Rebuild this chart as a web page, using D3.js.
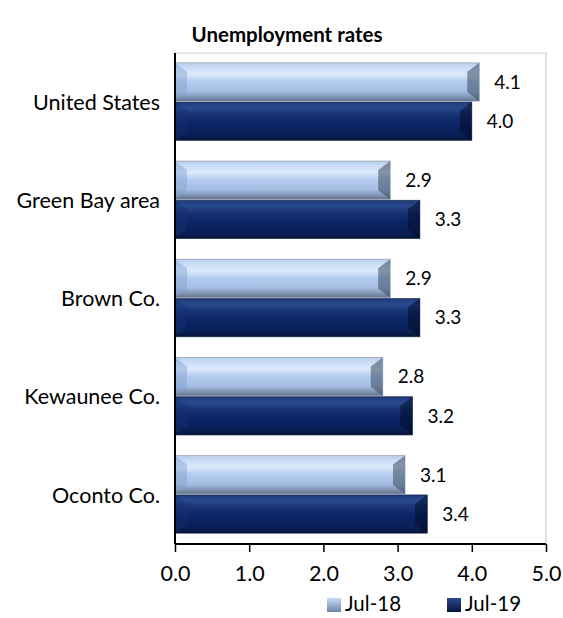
<!DOCTYPE html>
<html><head><meta charset="utf-8">
<script src="https://cdn.jsdelivr.net/npm/d3@7/dist/d3.min.js"></script>
<style>body{margin:0;background:#fff;}svg{display:block;}</style>
</head><body>
<svg id="c" width="563" height="618"></svg>
<script>
const categories = ["United States","Green Bay area","Brown Co.","Kewaunee Co.","Oconto Co."];
const seriesNames = ["Jul-18","Jul-19"];
const jul18 = [4.1, 2.9, 2.9, 2.8, 3.1];
const jul19 = [4.0, 3.3, 3.3, 3.2, 3.4];
const xTicks = [0,1,2,3,4,5];
const title = "Unemployment rates";

const svg = d3.select("#c");
const font = "Lato, 'Open Sans', sans-serif";
const L = 175, R = 546, T = 53, B = 544;
const x = d3.scaleLinear().domain([0,5]).range([L,R]);
const y = d3.scaleBand().domain(categories).range([T,B]).paddingInner(0.2).paddingOuter(0.1);
const sub = d3.scaleBand().domain(seriesNames).range([0,y.bandwidth()]);

const defs = svg.append("defs");
function grad(id, stops){
  const g = defs.append("linearGradient").attr("id",id).attr("x1",0).attr("y1",0).attr("x2",0).attr("y2",1);
  stops.forEach(s=>g.append("stop").attr("offset",s[0]).attr("stop-color",s[1]));
}
grad("gLight",[[0,"#b9cde9"],[0.12,"#c9dcf5"],[0.3,"#dbe9fb"],[0.5,"#b2cbee"],[0.75,"#a4bde2"],[0.88,"#8598b5"],[1,"#627490"]]);
grad("gDark",[[0,"#1d3a78"],[0.15,"#2a4a8e"],[0.3,"#1a3677"],[0.55,"#0b2566"],[0.85,"#0a1f56"],[1,"#061538"]]);
grad("lgLight",[[0,"#c9dcf5"],[1,"#6f85a8"]]);
grad("lgDark",[[0,"#2a4a8e"],[1,"#061538"]]);

// title
svg.append("text").attr("x",287).attr("y",42).attr("text-anchor","middle")
  .attr("font-family",font).attr("font-weight","bold").attr("font-size",20.5).attr("fill","#000").text(title);

// plot border (top/right gray)
svg.append("path").attr("d",`M${L},${T}H${R}V${B}`).attr("fill","none").attr("stroke","#d0d0d0").attr("stroke-width",1.2);

const data = [];
categories.forEach((c,i)=>{
  data.push({c, s:seriesNames[0], v:jul18[i]});
  data.push({c, s:seriesNames[1], v:jul19[i]});
});

const bars = svg.append("g").selectAll("g").data(data).join("g");
bars.each(function(d){
  const g = d3.select(this);
  const x0 = x(0), x1 = x(d.v), y0 = y(d.c)+sub(d.s), h = sub.bandwidth()-1, y1 = y0+h;
  const light = d.s===seriesNames[0];
  g.append("rect").attr("x",x0).attr("y",y0).attr("width",x1-x0).attr("height",h)
    .attr("fill", light ? "url(#gLight)" : "url(#gDark)");
  const b = 12, bv = 9;
  g.append("path").attr("d",`M${x0},${y0}L${x0+b},${y0+bv}L${x0+b},${y1-bv}L${x0},${y1}Z`)
    .attr("fill", light ? "#7f9fcf" : "#143073").attr("opacity",0.45);
  g.append("path").attr("d",`M${x1},${y0}L${x1-b},${y0+bv}L${x1-b},${y1-bv}L${x1},${y1}Z`)
    .attr("fill", light ? "#3b4a60" : "#020c2a").attr("opacity",0.55);
  g.append("rect").attr("x",x0).attr("y",y0).attr("width",x1-x0).attr("height",h)
    .attr("fill","none").attr("stroke", light ? "#7d8ca3" : "#0c1a40").attr("stroke-width",0.8).attr("opacity",0.7);
  g.append("text").attr("x",x1+15).attr("y",y0+h/2).attr("dy","0.36em")
    .attr("font-family",font).attr("font-size",19).attr("fill","#000").text(d.v.toFixed(1));
});

// category labels
svg.append("g").selectAll("text").data(categories).join("text")
  .attr("x",L-15).attr("y",d=>y(d)+y.bandwidth()/2).attr("dy","0.36em").attr("text-anchor","end")
  .attr("font-family",font).attr("font-size",21.5).attr("fill","#000").text(d=>d);

// axes
svg.append("line").attr("x1",L).attr("x2",L).attr("y1",T).attr("y2",B).attr("stroke","#000").attr("stroke-width",2);
const xAxis = svg.append("g").attr("transform",`translate(0,${B})`)
  .call(d3.axisBottom(x).tickValues(xTicks).tickSize(8).tickPadding(14).tickFormat(d3.format(".1f")));
xAxis.select(".domain").attr("stroke","#000").attr("stroke-width",2).attr("d",`M${L},0H${R}`);
xAxis.selectAll(".tick line").attr("stroke","#000").attr("stroke-width",1.5);
xAxis.selectAll("text").attr("font-family",font).attr("font-size",21.5).attr("fill","#000");

// legend
const leg = svg.append("g").attr("transform","translate(0,604)");
const lx = [327, 447];
seriesNames.forEach((s,i)=>{
  leg.append("rect").attr("x",lx[i]).attr("y",-6).attr("width",14).attr("height",14)
    .attr("fill", i===0 ? "url(#lgLight)" : "url(#lgDark)");
  leg.append("text").attr("x",lx[i]+18).attr("y",0).attr("dy","0.36em")
    .attr("font-family",font).attr("font-size",20.5).attr("fill","#000").text(s);
});
</script>
</body></html>
